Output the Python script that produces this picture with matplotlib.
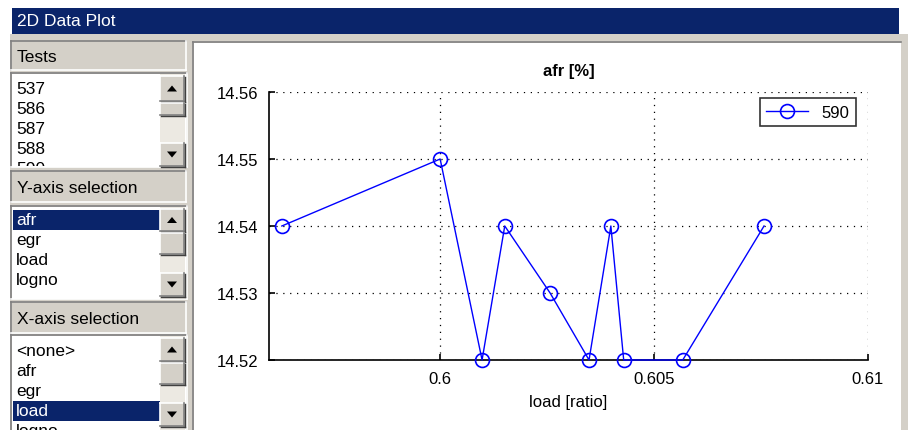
import matplotlib
matplotlib.use("Agg")
import matplotlib.pyplot as plt
from matplotlib.patches import Rectangle, Polygon
from matplotlib.ticker import FixedLocator
from matplotlib.transforms import Bbox, TransformedBbox

plt.rcParams['font.family'] = ['Liberation Sans', 'DejaVu Sans']

# data
load = [0.5963, 0.6000, 0.60098, 0.60151, 0.60257, 0.60348, 0.60399, 0.60429, 0.60567, 0.60757]
afr = [14.54, 14.55, 14.52, 14.54, 14.53, 14.52, 14.54, 14.52, 14.52, 14.54]
series_name = "590"
tests = ["537", "586", "587", "588", "590"]
y_options = ["afr", "egr", "load", "logno"]
x_options = ["<none>", "afr", "egr", "load", "logno"]
y_selected = "afr"
x_selected = "load"
x_ticks = [0.6, 0.605, 0.61]
x_ticklabels = ["0.6", "0.605", "0.61"]
y_ticks = [14.52, 14.53, 14.54, 14.55, 14.56]

W, H = 908, 431
GRAY = "#d4d0c8"
NAVY = "#0a246a"
DARK = "#808080"

fig = plt.figure(figsize=(W / 100, H / 100), dpi=100)
gui = fig.add_axes([0, 0, 1, 1])
gui.set_xlim(0, W)
gui.set_ylim(H, 0)
gui.axis("off")


def rect(x0, y0, x1, y1, color, z=1):
    gui.add_patch(Rectangle((x0, y0), x1 - x0, y1 - y0, facecolor=color, edgecolor="none", zorder=z))


def bevel(x0, y0, x1, y1, raised=True, z=2):
    light, dark = ("white", DARK) if raised else (DARK, "white")
    gui.plot([x0, x1], [y0, y0], color=light, lw=1.2, zorder=z)
    gui.plot([x0, x0], [y0, y1], color=light, lw=1.2, zorder=z)
    gui.plot([x0, x1], [y1, y1], color=dark, lw=1.2, zorder=z)
    gui.plot([x1, x1], [y0, y1], color=dark, lw=1.2, zorder=z)


def button(x0, y0, x1, y1, arrow=None):
    rect(x0, y0, x1, y1, GRAY, z=3)
    bevel(x0, y0, x1, y1, raised=True, z=4)
    gui.plot([x0 + 1, x1 + 1], [y1 + 1, y1 + 1], color="#404040", lw=1, zorder=4)
    gui.plot([x1 + 1, x1 + 1], [y0 + 1, y1 + 1], color="#404040", lw=1, zorder=4)
    if arrow:
        cx, cy = (x0 + x1) / 2, (y0 + y1) / 2
        s = 1 if arrow == "up" else -1
        gui.add_patch(Polygon([(cx - 5, cy + 3 * s), (cx + 5, cy + 3 * s), (cx, cy - 3 * s)],
                              closed=True, facecolor="black", edgecolor="none", zorder=5))


def label_box(y0, y1, text):
    rect(10, y0, 187, y1, GRAY, z=1)
    bevel(11, y0, 186, y1, raised=False)
    gui.text(17, (y0 + y1) / 2 + 1, text, fontsize=12.5, va="center", ha="left", zorder=6)


def listbox(y0, y1, items, selected, row0, scroll):
    rect(12, y0, 186, y1, "white", z=1)
    bevel(11, y0 - 1, 187, y1, raised=False)
    clip = TransformedBbox(Bbox([[12, y0], [160, y1 - 1]]), gui.transData)
    for i, item in enumerate(items):
        yc = row0 + i * 20
        if item == selected:
            rect(13, yc - 10, 160, yc + 10, NAVY, z=2)
            color = "white"
        else:
            color = "black"
        t = gui.text(16, yc, item, fontsize=12.5, va="center", ha="left", color=color, zorder=6)
        t.set_clip_on(True)
        t.set_clip_box(clip)
    # scrollbar
    up, thumb, down = scroll
    rect(160, y0, 185, y1, "#ece9e2", z=2)
    button(160, up[0], 184, up[1], "up")
    button(160, thumb[0], 184, thumb[1])
    button(160, down[0], 184, down[1], "down")


# window frame
rect(10, 35, W, H, GRAY, z=0)
rect(12, 9, 899, 35, NAVY, z=1)
gui.text(17, 22, "2D Data Plot", color="white", fontsize=12.5, va="center", ha="left", zorder=6)
rect(194, 44, 901, H, "white", z=1)
gui.plot([193, 193], [43, H], color=DARK, lw=1.2, zorder=2)
gui.plot([193, 901], [43, 43], color=DARK, lw=1.2, zorder=2)

label_box(42, 71, "Tests")
listbox(75, 168, tests, None, 90, ((77, 102), (104, 116), (144, 167)))
label_box(172, 203, "Y-axis selection")
listbox(208, 300, y_options, y_selected, 221, ((210, 232), (234, 255), (274, 297)))
label_box(303, 334, "X-axis selection")
listbox(337, H + 2, x_options, x_selected, 352, ((339, 362), (364, 385), (404, 427)))

# the actual plot
ax = fig.add_axes([269 / W, (H - 361) / H, 599 / W, 268 / H])
ax.set_facecolor("white")
ax.plot(load, afr, color="#0000ff", lw=1.0, marker="o", markersize=10,
        markerfacecolor="none", markeredgecolor="#0000ff", markeredgewidth=1.2,
        label=series_name, clip_on=False, zorder=3)
ax.set_xlim(0.596, 0.61)
ax.set_ylim(14.52, 14.56)
ax.xaxis.set_major_locator(FixedLocator(x_ticks))
ax.set_xticklabels(x_ticklabels)
ax.yaxis.set_major_locator(FixedLocator(y_ticks))
ax.set_yticklabels([f"{v:.2f}" for v in y_ticks])
ax.grid(True, color="black", linestyle=(0, (1, 4.5)), linewidth=0.9)
for side in ("top", "right"):
    ax.spines[side].set_visible(False)
for side in ("left", "bottom"):
    ax.spines[side].set_linewidth(1.2)
ax.tick_params(direction="in", length=4, width=1.2, labelsize=12, pad=8, colors="black")
ax.set_title("afr [%]", fontsize=12, fontweight="bold", pad=12)
ax.set_xlabel("load [ratio]", fontsize=12, labelpad=6)
leg = ax.legend(loc="upper right", bbox_to_anchor=(1 - 12 / 599, 1 - 6 / 268), fontsize=12,
                frameon=True, fancybox=False, borderpad=0.4, handlelength=2.5,
                handletextpad=0.8, borderaxespad=0)
leg.get_frame().set_edgecolor("black")
leg.get_frame().set_linewidth(1.2)

fig.savefig("out.png", dpi=100)
